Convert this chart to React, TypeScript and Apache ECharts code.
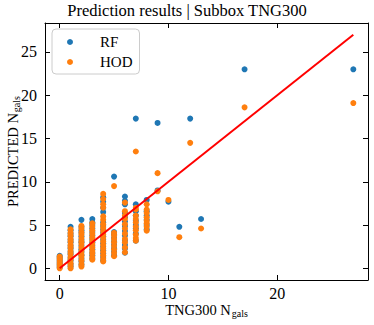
import React, { useEffect, useRef } from "react";
import * as echarts from "echarts";

const title = "Prediction results | Subbox TNG300";
const xTicks = [0, 10, 20];
const yTicks = [0, 5, 10, 15, 20, 25];

// RF predictions: [TNG300 N_gals, predicted]
const rfData: number[][] = [
  [0, 0.1], [0, 0.3], [0, 0.5], [0, 0.7], [0, 0.9], [0, 1.1], [0, 1.3], [0, 1.45],
  [1, 0.2], [1, 0.5], [1, 0.9], [1, 1.2], [1, 1.6], [1, 1.9], [1, 2.3], [1, 2.6], [1, 3.0], [1, 3.3], [1, 3.7], [1, 4.0], [1, 4.4], [1, 4.8],
  [2, 0.4], [2, 0.8], [2, 1.1], [2, 1.5], [2, 1.9], [2, 2.2], [2, 2.6], [2, 3.0], [2, 3.3], [2, 3.7], [2, 4.1], [2, 4.4], [2, 4.8], [2, 5.6],
  [3, 1.1], [3, 1.5], [3, 1.8], [3, 2.2], [3, 2.6], [3, 3.0], [3, 3.4], [3, 3.8], [3, 4.2], [3, 4.6], [3, 5.0], [3, 5.3], [3, 5.7],
  [4, 0.9], [4, 1.3], [4, 1.7], [4, 2.1], [4, 2.5], [4, 2.9], [4, 3.3], [4, 3.7], [4, 4.1], [4, 4.5], [4, 4.9], [4, 5.3], [4, 6.5], [4, 7.0], [4, 7.7], [4, 8.2],
  [5, 1.5], [5, 1.9], [5, 2.3], [5, 2.7], [5, 3.1], [5, 3.5], [5, 3.9], [5, 4.2], [5, 10.6],
  [6, 1.8], [6, 2.3], [6, 2.7], [6, 3.2], [6, 3.8], [6, 4.3], [6, 4.9], [6, 5.4], [6, 5.9], [6, 6.4], [6, 7.4], [6, 7.8], [6, 8.3],
  [7, 3.2], [7, 4.0], [7, 4.6], [7, 5.0], [7, 5.5], [7, 6.1], [7, 6.6], [7, 7.4], [7, 17.3],
  [8, 4.5], [8, 5.0], [8, 5.6], [8, 6.1], [8, 6.6], [8, 7.9],
  [9, 9.0], [9, 16.8],
  [10, 7.7],
  [11, 4.8],
  [12, 17.3],
  [13, 5.7],
  [17, 23.0],
  [27, 23.0],
];

// HOD predictions
const hodData: number[][] = [
  [0, 0.0], [0, 0.2], [0, 0.4], [0, 0.6], [0, 0.8], [0, 1.0], [0, 1.2], [0, 1.35],
  [1, 0.0], [1, 0.3], [1, 0.6], [1, 1.0], [1, 1.3], [1, 1.7], [1, 2.0], [1, 2.4], [1, 2.7], [1, 3.1], [1, 3.4], [1, 3.8], [1, 4.1], [1, 4.5],
  [2, 0.2], [2, 0.5], [2, 0.9], [2, 1.3], [2, 1.6], [2, 2.0], [2, 2.4], [2, 2.8], [2, 3.1], [2, 3.5], [2, 3.9], [2, 4.2], [2, 4.6], [2, 4.9],
  [3, 1.0], [3, 1.3], [3, 1.7], [3, 2.0], [3, 2.4], [3, 2.8], [3, 3.2], [3, 3.6], [3, 4.0], [3, 4.4], [3, 4.8], [3, 5.2],
  [4, 0.8], [4, 1.1], [4, 1.5], [4, 1.9], [4, 2.3], [4, 2.7], [4, 3.1], [4, 3.5], [4, 3.9], [4, 4.3], [4, 4.7], [4, 5.1], [4, 5.6], [4, 6.0], [4, 7.0], [4, 7.4], [4, 8.0], [4, 8.6],
  [5, 1.4], [5, 1.8], [5, 2.2], [5, 2.6], [5, 3.0], [5, 3.4], [5, 3.8], [5, 4.1], [5, 9.5],
  [6, 1.85], [6, 2.4], [6, 3.0], [6, 3.4], [6, 4.0], [6, 4.6], [6, 5.1], [6, 5.7], [6, 6.1], [6, 6.6], [6, 7.6],
  [7, 3.2], [7, 3.5], [7, 3.9], [7, 4.4], [7, 4.8], [7, 5.3], [7, 5.7], [7, 6.1], [7, 6.8], [7, 7.0], [7, 13.5],
  [8, 4.35], [8, 4.8], [8, 5.2], [8, 5.5], [8, 5.9], [8, 6.4], [8, 6.8], [8, 7.4],
  [9, 8.9], [9, 11.0],
  [10, 7.9],
  [11, 3.6],
  [12, 14.5],
  [13, 4.6],
  [17, 18.6],
  [27, 19.1],
];

// identity reference line
const lineData: number[][] = [
  [0, 0],
  [27, 27],
];

const FONT = "Liberation Serif";

export default function App() {
  const ref = useRef<HTMLDivElement>(null);
  useEffect(() => {
    if (!ref.current) return;
    const chart = echarts.init(ref.current, null, { renderer: "svg" });
    const axisBase = {
      type: "value" as const,
      min: -1.35,
      max: 28.35,
      splitLine: { show: false },
      axisLine: { show: true, onZero: false, lineStyle: { color: "#000", width: 1 } },
    };
    const nameStyle = {
      fontFamily: FONT,
      fontSize: 14.5,
      color: "#000",
      rich: {
        sub: { fontFamily: FONT, fontSize: 10, color: "#000", padding: [7, 0, 0, 1] },
      },
    };
    chart.setOption({
      animation: false,
      title: {
        text: title,
        left: "center",
        top: 2,
        padding: 0,
        textStyle: { fontFamily: FONT, fontSize: 16.5, fontWeight: "normal", color: "#000" },
      },
      grid: { left: 45, right: 6, top: 23, bottom: 45, containLabel: false, outerBoundsMode: "none" },
      legend: {
        data: ["RF", "HOD"],
        orient: "vertical",
        left: 52,
        top: 29,
        padding: [5, 7, 4, 15],
        itemGap: 4,
        itemWidth: 10,
        itemHeight: 6,
        icon: "circle",
        backgroundColor: "rgba(255,255,255,0.8)",
        borderColor: "#cccccc",
        borderWidth: 1,
        borderRadius: 4,
        textStyle: { fontFamily: FONT, fontSize: 15, color: "#000", padding: [0, 0, 0, 20], lineHeight: 16 },
      },
      xAxis: [
        {
          ...axisBase,
          position: "bottom",
          axisTick: { show: true, inside: true, length: 5, customValues: xTicks, lineStyle: { color: "#000" } },
          axisLabel: { show: true, customValues: xTicks, margin: 5, fontFamily: FONT, fontSize: 16, color: "#000" },
          name: "TNG300 N{sub|gals}",
          nameLocation: "middle",
          nameGap: 21,
          nameMoveOverlap: false,
          nameTextStyle: nameStyle,
        },
        {
          ...axisBase,
          position: "top",
          axisTick: { show: true, inside: true, length: 5, customValues: xTicks, lineStyle: { color: "#000" } },
          axisLabel: { show: false },
        },
      ],
      yAxis: [
        {
          ...axisBase,
          position: "left",
          axisTick: { show: true, inside: true, length: 5, customValues: yTicks, lineStyle: { color: "#000" } },
          axisLabel: { show: true, customValues: yTicks, margin: 8, fontFamily: FONT, fontSize: 16, color: "#000" },
          name: "PREDICTED N{sub|gals}",
          nameLocation: "middle",
          nameRotate: 90,
          nameGap: 24,
          nameMoveOverlap: false,
          nameTextStyle: nameStyle,
        },
        {
          ...axisBase,
          position: "right",
          axisTick: { show: true, inside: true, length: 5, customValues: yTicks, lineStyle: { color: "#000" } },
          axisLabel: { show: false },
        },
      ],
      series: [
        {
          name: "RF",
          type: "scatter",
          data: rfData,
          symbolSize: 6,
          itemStyle: { color: "#1f77b4", opacity: 1 },
        },
        {
          name: "HOD",
          type: "scatter",
          data: hodData,
          symbolSize: 6,
          itemStyle: { color: "#ff7f0e", opacity: 1 },
        },
        {
          name: "fit",
          type: "line",
          data: lineData,
          symbol: "none",
          lineStyle: { color: "#ff0000", width: 2 },
          itemStyle: { color: "#ff0000" },
        },
      ],
    });
    return () => chart.dispose();
  }, []);
  return (
    <div
      ref={ref}
      style={{ position: "absolute", left: 0, top: 0, width: 374, height: 325 }}
    />
  );
}
